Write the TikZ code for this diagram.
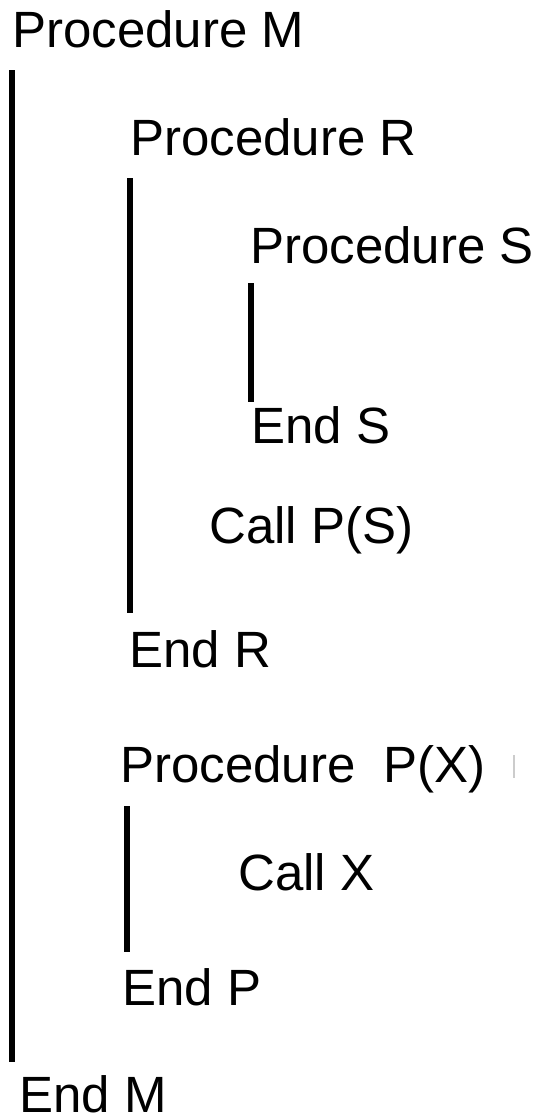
\documentclass[tikz,border=0pt]{standalone}
\usepackage{fontspec}
\setmainfont{Liberation Sans}
\usepackage{tikz}
\usetikzlibrary{positioning}

\begin{document}
\begin{tikzpicture}[
    x=1pt, y=-1pt,
    label/.style={anchor=base west, inner sep=0pt, font=\fontsize{51}{60}\selectfont},
    bar/.style={line width=6pt, color=black},
    tick/.style={line width=2pt, color=gray!40}
]
\useasboundingbox (0,0) rectangle (540,1119);

% === PROCEDURE M ===
\node[label] (procM) at (12,47) {Procedure M};
\node[label] (endM) at (19,1112) {End M};
\coordinate (mtop) at (12,70);
\coordinate (mbot) at (12,1062);

% === PROCEDURE R ===
\node[label] (procR) at (130,155) {Procedure R};
\node[label] (endR) at (129,667) {End R};
\coordinate (rtop) at (130,178);
\coordinate (rbot) at (130,613);

% === PROCEDURE S (inside R) ===
\node[label] (procS) at (250,263) {Procedure S};
\node[label] (endS) at (251,443) {End S};
\coordinate (stop) at (251,283);
\coordinate (sbot) at (251,402);

\node[label] (callPS) at (209,543) {Call P(S)};

% === PROCEDURE P ===
\node[label] (procP) at (120,782) {Procedure\ \ P(X)};
\node[label] (callX) at (238,890) {Call X};
\node[label] (endP) at (122,1005) {End P};
\coordinate (ptop) at (127,806);
\coordinate (pbot) at (127,952);

% === BARS ===
\draw[bar] (mtop) -- (mbot);
\draw[bar] (rtop) -- (rbot);
\draw[bar] (stop) -- (sbot);
\draw[bar] (ptop) -- (pbot);

% small mark right of P(X)
\coordinate (marktop) at (514,755);
\coordinate (markbot) at (514,778);
\draw[tick] (marktop) -- (markbot);

\end{tikzpicture}
\end{document}
